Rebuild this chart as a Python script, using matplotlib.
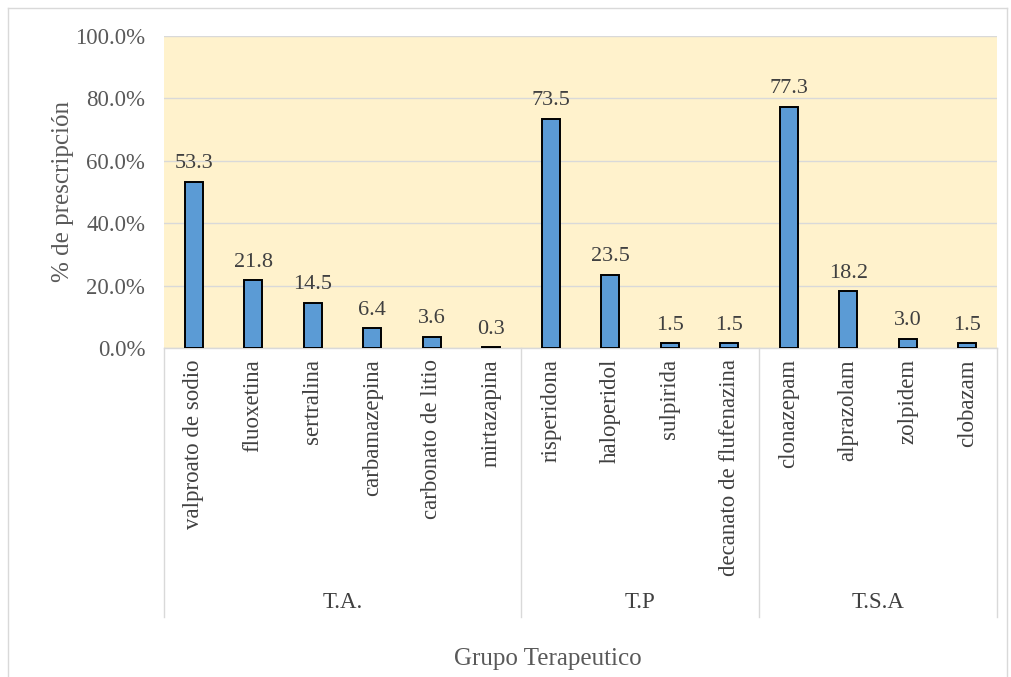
import matplotlib
matplotlib.use("Agg")
import matplotlib.pyplot as plt
from matplotlib.lines import Line2D
from matplotlib.ticker import FuncFormatter

plt.rcParams["font.family"] = ["Liberation Serif", "DejaVu Serif"]

drugs = ["valproato de sodio", "fluoxetina", "sertralina", "carbamazepina",
         "carbonato de litio", "mirtazapina", "risperidona", "haloperidol",
         "sulpirida", "decanato de flufenazina", "clonazepam", "alprazolam",
         "zolpidem", "clobazam"]
values = [53.3, 21.8, 14.5, 6.4, 3.6, 0.3, 73.5, 23.5, 1.5, 1.5,
          77.3, 18.2, 3.0, 1.5]
groups = ["T.A.", "T.P", "T.S.A"]
group_sizes = [6, 4, 4]

W, H = 1012, 677
fig = plt.figure(figsize=(W / 100, H / 100), dpi=100)

# light chart-area border
for xs, ys in [([8, 1007], [8, 8]), ([8, 8], [8, 677]), ([1007, 1007], [8, 677])]:
    fig.add_artist(Line2D([x / W for x in xs], [1 - y / H for y in ys],
                          color="#d9d9d9", lw=1.0))

left, right, top, bottom = 164, 997, 36, 348
ax = fig.add_axes([left / W, 1 - bottom / H, (right - left) / W, (bottom - top) / H])
ax.set_facecolor("#fff2cc")

x = range(len(drugs))
ax.bar(x, [v / 100 for v in values], width=0.3, color="#5b9bd5",
       edgecolor="black", linewidth=1.4, zorder=3)
for xi, v in zip(x, values):
    ax.annotate(f"{v:.1f}", (xi, v / 100), xytext=(0, 6), textcoords="offset points",
                ha="center", va="bottom", fontsize=16, color="#404040", zorder=4)

ax.set_xlim(-0.5, len(drugs) - 0.5)
ax.set_ylim(0, 1.0)
ax.set_yticks([0, 0.2, 0.4, 0.6, 0.8, 1.0])
ax.yaxis.set_major_formatter(FuncFormatter(lambda v, _: f"{v * 100:.1f}%"))
ax.grid(axis="y", color="#d9d9d9", lw=1.0, zorder=0)
ax.set_axisbelow(True)
for s in ["top", "right", "left"]:
    ax.spines[s].set_visible(False)
ax.spines["bottom"].set_color("#d9d9d9")
ax.spines["bottom"].set_linewidth(1.0)
ax.tick_params(axis="y", length=0, labelsize=16.5, labelcolor="#595959", pad=13.5)
ax.tick_params(axis="x", length=0, labelsize=16.5, labelcolor="#404040", pad=8)
ax.set_xticks(list(x))
ax.set_xticklabels(drugs, rotation=90, va="top", ha="center")
ax.set_ylabel("% de prescripción", fontsize=18, color="#595959", labelpad=1)

# multi-level category axis: group separators and group names
line_bottom = -(617 - bottom) / (bottom - top)
label_y = -(603 - bottom) / (bottom - top)
trans = ax.get_xaxis_transform()
start = -0.5
ax.plot([start, start], [0, line_bottom], color="#d9d9d9", lw=1.0,
        transform=trans, clip_on=False)
for name, n in zip(groups, group_sizes):
    end = start + n
    ax.plot([end, end], [0, line_bottom], color="#d9d9d9", lw=1.0,
            transform=trans, clip_on=False)
    ax.text((start + end) / 2, label_y, name, transform=trans, ha="center",
            va="center", fontsize=16.5, color="#404040")
    start = end

fig.text(548 / W, 1 - 659 / H, "Grupo Terapeutico", ha="center",
         va="center", fontsize=18, color="#595959")

fig.savefig("out.png", dpi=100, facecolor="white")
